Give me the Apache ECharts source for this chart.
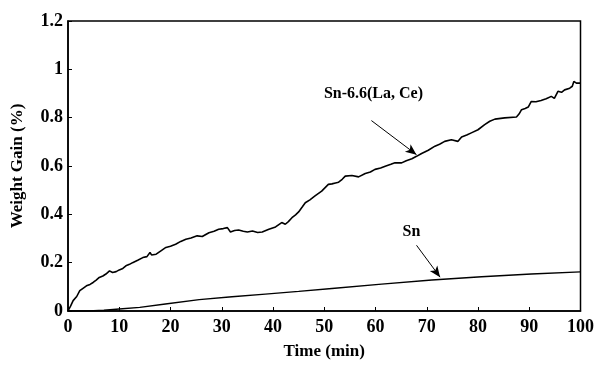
<!DOCTYPE html>
<html>
<head>
<meta charset="UTF-8">
<title>Weight Gain vs Time</title>
<script src="https://cdn.jsdelivr.net/npm/echarts@6/dist/echarts.min.js"></script>
<style type="text/css">
  html, body { margin: 0; padding: 0; background: #fff; }
  #chart { width: 597px; height: 365px; }
</style>
</head>
<body>
<div id="chart"></div>
<script type="text/javascript">
// time (min) and weight gain (%)
var alloyTime = [0, 0.5, 1, 1.7, 2.3, 3, 3.6, 4.3, 4.9, 5.5, 6.1, 6.8, 7.4, 8.1, 8.7, 9.4, 10, 10.7, 11.3, 12, 12.6, 13.6, 14.6, 15.4, 16, 16.3, 17.2, 18.2, 19.1, 20, 21, 22, 23, 24, 25.2, 26.2, 27.5, 28.5, 29.4, 30.3, 31.1, 31.7, 32.5, 33.3, 34.2, 35, 36, 37, 37.9, 38.6, 39.2, 40.5, 41.7, 42.4, 43, 43.7, 44.4, 45, 45.7, 46.3, 47.2, 48.2, 49.5, 50.8, 51.5, 52.2, 52.8, 53.5, 54.1, 55.4, 56.7, 58, 59, 59.9, 61, 61.9, 63, 63.8, 65.1, 66, 67.1, 68, 69, 70.3, 71.6, 72.5, 73.5, 74.8, 76.1, 76.8, 77.8, 78.7, 80, 81.3, 82.3, 83.3, 85.2, 87.5, 88, 88.5, 89.2, 89.8, 90.4, 91.3, 92.3, 93.3, 94.3, 94.9, 95.6, 96.3, 96.9, 97.9, 98.4, 98.7, 99.2, 100];
var alloyGain = [0, 0.02, 0.043, 0.06, 0.084, 0.095, 0.104, 0.11, 0.118, 0.128, 0.139, 0.145, 0.153, 0.166, 0.159, 0.163, 0.170, 0.176, 0.187, 0.193, 0.20, 0.21, 0.221, 0.225, 0.242, 0.232, 0.235, 0.25, 0.263, 0.268, 0.276, 0.288, 0.297, 0.302, 0.311, 0.308, 0.324, 0.33, 0.338, 0.341, 0.345, 0.327, 0.333, 0.335, 0.33, 0.327, 0.331, 0.325, 0.327, 0.333, 0.338, 0.348, 0.366, 0.359, 0.37, 0.386, 0.398, 0.41, 0.43, 0.448, 0.46, 0.476, 0.496, 0.524, 0.526, 0.53, 0.533, 0.545, 0.558, 0.561, 0.555, 0.569, 0.575, 0.586, 0.592, 0.599, 0.607, 0.613, 0.613, 0.622, 0.63, 0.64, 0.652, 0.665, 0.682, 0.69, 0.702, 0.709, 0.702, 0.72, 0.728, 0.737, 0.75, 0.771, 0.785, 0.794, 0.799, 0.803, 0.815, 0.833, 0.838, 0.844, 0.867, 0.866, 0.871, 0.878, 0.888, 0.88, 0.909, 0.905, 0.915, 0.922, 0.93, 0.95, 0.943, 0.943];
var snTime = [0, 4, 7, 10, 14, 19, 25.6, 32, 38.5, 45, 51.5, 61.2, 71, 80.7, 90.4, 100];
var snGain = [0, 0, 0.003, 0.008, 0.015, 0.029, 0.047, 0.059, 0.07, 0.081, 0.093, 0.111, 0.128, 0.142, 0.153, 0.162];

function pairs(xs, ys) {
  return xs.map(function (x, i) { return [x, ys[i]]; });
}

var font = 'Liberation Serif, Times New Roman, serif';

var myChart = echarts.init(document.getElementById('chart'));
var option = {
  animation: false,
  backgroundColor: '#fff',
  grid: { left: 68, right: 14, top: 21, bottom: 53, show: true, borderColor: '#000', borderWidth: 1.5 },
  xAxis: {
    type: 'value', min: 0, max: 100, interval: 10,
    name: 'Time (min)', nameLocation: 'middle', nameGap: 32,
    nameTextStyle: { fontFamily: font, fontWeight: 'bold', fontSize: 17, color: '#000' },
    axisLine: { lineStyle: { color: '#000', width: 1.5 } },
    axisTick: { inside: true, length: 4, lineStyle: { color: '#000' } },
    axisLabel: { fontFamily: font, fontWeight: 'bold', fontSize: 18, color: '#000', margin: 7 },
    splitLine: { show: false }
  },
  yAxis: {
    type: 'value', min: 0, max: 1.2, interval: 0.2,
    name: 'Weight Gain (%)', nameLocation: 'middle', nameGap: 42,
    nameTextStyle: { fontFamily: font, fontWeight: 'bold', fontSize: 17, color: '#000' },
    axisLine: { lineStyle: { color: '#000', width: 1.5 } },
    axisTick: { inside: true, length: 4, lineStyle: { color: '#000' } },
    axisLabel: { fontFamily: font, fontWeight: 'bold', fontSize: 18, color: '#000', margin: 5 },
    splitLine: { show: false }
  },
  series: [{
    name: 'Sn-6.6(La, Ce)',
    type: 'line',
    showSymbol: false,
    data: pairs(alloyTime, alloyGain),
    lineStyle: { color: '#000', width: 1.6 },
    markPoint: {
      symbol: 'rect', symbolSize: 0,
      label: { show: true, formatter: 'Sn-6.6(La, Ce)', fontFamily: font, fontWeight: 'bold', fontSize: 16, color: '#000' },
      data: [{ coord: [59.6, 0.9] }]
    },
    markLine: {
      silent: true,
      symbol: ['none', 'arrow'], symbolSize: [7, 11],
      label: { show: false },
      lineStyle: { color: '#000', width: 1, type: 'solid' },
      data: [[{ coord: [59.2, 0.788] }, { coord: [68, 0.647] }]]
    }
  }, {
    name: 'Sn',
    type: 'line',
    showSymbol: false,
    data: pairs(snTime, snGain),
    lineStyle: { color: '#000', width: 1.4 },
    markPoint: {
      symbol: 'rect', symbolSize: 0,
      label: { show: true, formatter: 'Sn', fontFamily: font, fontWeight: 'bold', fontSize: 16, color: '#000' },
      data: [{ coord: [67, 0.326] }]
    },
    markLine: {
      silent: true,
      symbol: ['none', 'arrow'], symbolSize: [7, 11],
      label: { show: false },
      lineStyle: { color: '#000', width: 1, type: 'solid' },
      data: [[{ coord: [68, 0.272] }, { coord: [72.6, 0.14] }]]
    }
  }]
};
myChart.setOption(option);
</script>
</body>
</html>
